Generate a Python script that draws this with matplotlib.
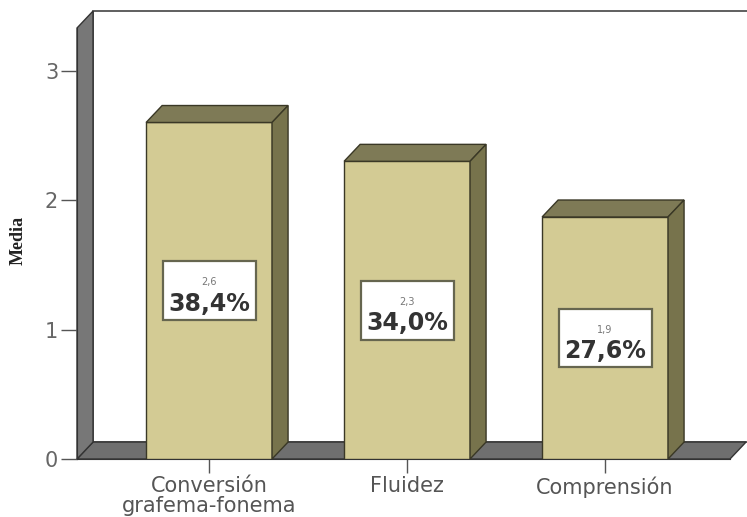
import matplotlib
matplotlib.use("Agg")
import matplotlib.pyplot as plt
from matplotlib.patches import Polygon, Rectangle

categories = ["Conversión\ngrafema-fonema", "Fluidez", "Comprensión"]
means = [2.6, 2.3, 1.87]
percents = [38.4, 34.0, 27.6]
yticks = [0, 1, 2, 3]

front_col = "#d3cb94"
top_col = "#7e7a56"
side_col = "#77734c"
edge_col = "#3a3826"
wall_col = "#777777"
floor_col = "#6f6f6f"

fig = plt.figure(figsize=(7.47, 5.17), dpi=100)
ax = fig.add_axes([77 / 747, 58 / 517, 653 / 747, 431 / 517])
x0, x1 = -0.667, 2.631
y1 = 3.33
ax.set_xlim(x0, x1)
ax.set_ylim(0, y1)

# depth of the 3d effect, in data units
dx, dy = 0.081, 0.131
w = 0.636

# back wall
ax.add_patch(Rectangle((x0 + dx, dy), 5, y1, facecolor="white",
                       edgecolor="#444444", lw=1.2, clip_on=False, zorder=0))
# floor
ax.add_patch(Polygon([(x0, 0), (x1, 0), (x1 + dx, dy), (x0 + dx, dy)],
                     closed=True, facecolor=floor_col, edgecolor="#333333",
                     lw=1, clip_on=False, zorder=1))
# left wall
ax.add_patch(Polygon([(x0, 0), (x0, y1), (x0 + dx, y1 + dy), (x0 + dx, dy)],
                     closed=True, facecolor=wall_col, edgecolor="#333333",
                     lw=1, clip_on=False, zorder=1))

xs = list(range(len(categories)))
ax.bar(xs, means, width=w, color=front_col, edgecolor=edge_col, lw=1, zorder=3)
for x, v in zip(xs, means):
    l, r = x - w / 2, x + w / 2
    ax.add_patch(Polygon([(l, v), (r, v), (r + dx, v + dy), (l + dx, v + dy)],
                         closed=True, facecolor=top_col, edgecolor=edge_col,
                         lw=1, clip_on=False, zorder=3))
    ax.add_patch(Polygon([(r, 0), (r + dx, dy), (r + dx, v + dy), (r, v)],
                         closed=True, facecolor=side_col, edgecolor=edge_col,
                         lw=1, clip_on=False, zorder=3))

# labels inside the bars
bw, bh = 0.47, 0.455
for x, v, p in zip(xs, means, percents):
    yc = v / 2
    ax.add_patch(Rectangle((x - bw / 2, yc - bh / 2), bw, bh, facecolor="white",
                           edgecolor="#66664f", lw=1.6, zorder=4))
    ax.text(x, yc + 0.065, f"{v:.1f}".replace(".", ","), ha="center", va="center",
            fontsize=7, color="#777777", zorder=5)
    ax.text(x, yc - 0.1, f"{p:.1f}%".replace(".", ","), ha="center", va="center",
            fontsize=17, fontweight="bold", color="#333333", zorder=5)

for s in ["top", "right"]:
    ax.spines[s].set_visible(False)
for s in ["left", "bottom"]:
    ax.spines[s].set_color("#333333")
    ax.spines[s].set_zorder(2)
ax.set_yticks(yticks)
ax.set_yticklabels([str(t) for t in yticks])
ax.set_xticks(xs)
ax.set_xticklabels(categories, linespacing=1.0)
ax.tick_params(axis="y", length=11.5, width=1, color="#555555", labelcolor="#666666",
               labelsize=15, pad=2)
ax.tick_params(axis="x", length=10, width=1, color="#555555", labelcolor="#555555",
               labelsize=15, pad=2.5)
ax.set_ylabel("Media", family="Liberation Serif", fontweight="bold", fontsize=13,
              color="#222222")
ax.yaxis.set_label_coords(-0.077, 0.507)

fig.savefig("out.png", dpi=100)
